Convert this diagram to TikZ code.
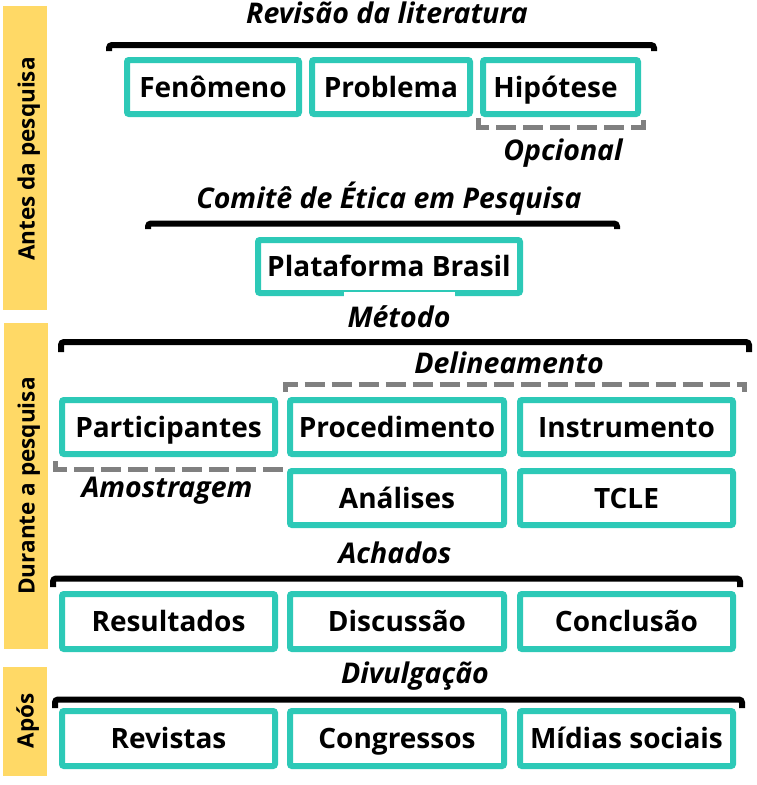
\documentclass[tikz,border=0pt]{standalone}
\usepackage{fontspec}
\setmainfont{Open Sans}
\definecolor{tealb}{HTML}{2DC9B7}
\definecolor{goldb}{HTML}{FFD966}
\definecolor{dgray}{HTML}{808080}
\tikzset{
  box/.style={draw=tealb, line width=6pt, rounded corners=2pt, inner sep=0pt, fill=white,
    text height=20pt, text depth=0pt, font=\fontsize{28}{32}\selectfont\bfseries},
  lbl/.style={font=\fontsize{28.5}{32}\selectfont\bfseries\itshape, inner sep=0pt, anchor=base},
  brk/.style={draw=black, line width=6pt, rounded corners=3pt},
  dbrk/.style={draw=dgray, line width=5pt, dash pattern=on 20pt off 7pt},
  sidebar/.style={fill=goldb, draw=none},
  sidetxt/.style={rotate=90, inner sep=0pt, text height=16pt, text depth=0pt, font=\fontsize{22.5}{26}\selectfont\bfseries}
}
\begin{document}
\begin{tikzpicture}[x=1pt, y=-1pt]
\useasboundingbox (0,0) rectangle (756,785);
% side bars
\path[sidebar] (3,6) rectangle (47,310);
\path[sidebar] (4,323) rectangle (48,649);
\path[sidebar] (3,667) rectangle (47,776);
\node[sidetxt] (s1) at (26.5,159) {Antes da pesquisa};
\node[sidetxt] (s2) at (26.5,486) {Durante a pesquisa};
\node[sidetxt] (s3) at (25.5,721) {Após};
% brackets
\draw[brk] (109,51) -- (109,45) -- (654,45) -- (654,51);
\draw[brk] (148,229) -- (148,223.5) -- (617,223.5) -- (617,229);
\draw[brk] (61,352) -- (61,342) -- (749,342) -- (749,352);
\draw[brk] (53,587) -- (53,578.5) -- (740,578.5) -- (740,587);
\draw[brk] (55,708) -- (55,699.5) -- (742,699.5) -- (742,708);
% dashed brackets
\draw[dbrk] (478.5,118) -- (478.5,127.5) -- (643.5,127.5) -- (643.5,118);
\draw[dbrk] (55.5,461) -- (55.5,469.5) -- (280.5,469.5) -- (280.5,461);
\draw[dbrk] (285.5,392) -- (285.5,384) -- (744.5,384) -- (744.5,392);
% boxes
\node[box, minimum width=172, minimum height=54] (fen) at (213,87) {Fenômeno};
\node[box, minimum width=158, minimum height=54] (pro) at (391,87) {Problema};
\node[box, minimum width=155, minimum height=54] (hip) at (560.5,87) {Hipótese\hspace*{10pt}};
\node[box, minimum width=262, minimum height=53] (pla) at (389,266.5) {Plataforma Brasil};
\node[box, minimum width=213, minimum height=54] (par) at (168.5,427) {Participantes};
\node[box, minimum width=214, minimum height=54] (prc) at (397,427) {Procedimento};
\node[box, minimum width=213, minimum height=54] (ins) at (626.5,427) {Instrumento};
\node[box, minimum width=214, minimum height=54] (ana) at (397,498) {Análises};
\node[box, minimum width=213, minimum height=54] (tcl) at (626.5,498) {TCLE};
\node[box, minimum width=213, minimum height=55] (res) at (168.5,621.5) {Resultados};
\node[box, minimum width=214, minimum height=55] (dis) at (397,621.5) {Discussão};
\node[box, minimum width=213, minimum height=55] (con) at (626.5,621.5) {Conclusão};
\node[box, minimum width=213, minimum height=55] (rev) at (168.5,738.5) {Revistas};
\node[box, minimum width=214, minimum height=55] (cgr) at (397,738.5) {Congressos};
\node[box, minimum width=213, minimum height=55] (mid) at (626.5,738.5) {Mídias sociais};
% labels
\node[lbl] (l1) at (387,23) {Revisão da literatura};
\node[lbl] (l2) at (563,160) {Opcional};
\node[lbl] (l3) at (389,208) {Comitê de Ética em Pesquisa};
\node[lbl, fill=white, text height=35pt, text depth=6pt, minimum width=111pt] (l4) at (399,327) {Método};
\node[lbl] (l5) at (509,373) {Delineamento};
\node[lbl] (l6) at (167,497) {Amostragem};
\node[lbl] (l7) at (395,563) {Achados};
\node[lbl] (l8) at (415,683) {Divulgação};
\end{tikzpicture}
\end{document}
